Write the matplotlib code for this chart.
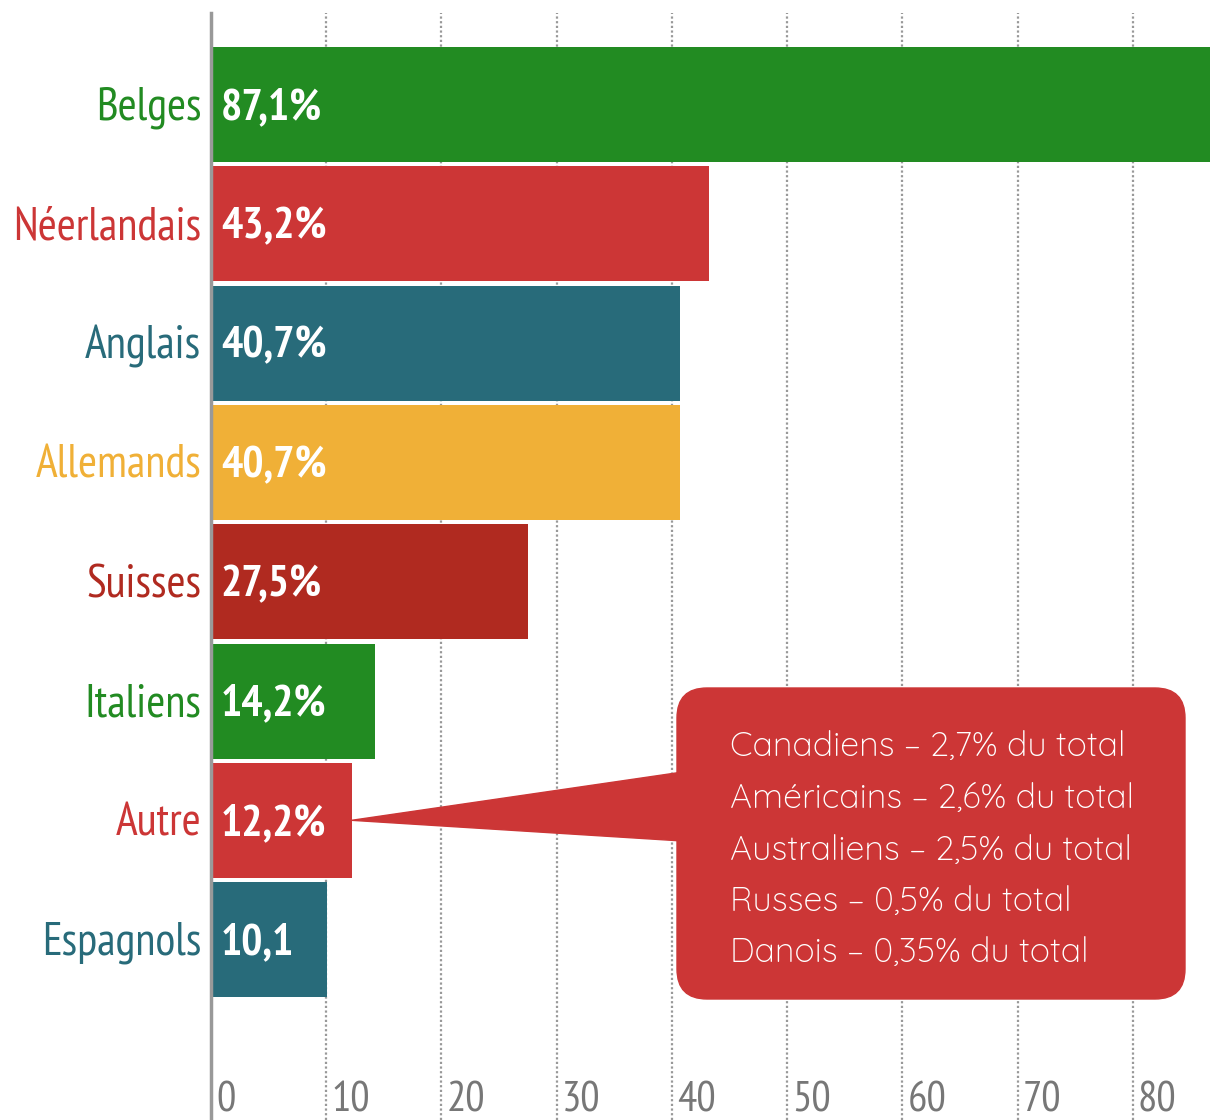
import matplotlib.pyplot as plt
from matplotlib.patches import FancyBboxPatch, Polygon
import numpy as np

# données
categories = ['Belges', 'Néerlandais', 'Anglais', 'Allemands', 'Suisses', 'Italiens', 'Autre', 'Espagnols']
values = [87.1, 43.2, 40.7, 40.7, 27.5, 14.2, 12.2, 10.1]
value_labels = ['87,1%', '43,2%', '40,7%', '40,7%', '27,5%', '14,2%', '12,2%', '10,1']
colors = ['#228b22', '#cc3636', '#286b7a', '#f0b037', '#b02a20', '#228b22', '#cc3636', '#286b7a']
ticks = [0, 10, 20, 30, 40, 50, 60, 70, 80]
other_lines = ['Canadiens – 2,7% du total',
               'Américains – 2,6% du total',
               'Australiens – 2,5% du total',
               'Russes – 0,5% du total',
               'Danois – 0,35% du total']

narrow = ['PT Sans Narrow', 'DejaVu Sans']
box_font = ['Quicksand', 'Lato', 'DejaVu Sans']

fig = plt.figure(figsize=(12.1, 11.2), dpi=100)
ax = fig.add_axes([211 / 1210, 0, 999 / 1210, 1107 / 1120])

y = np.arange(len(categories))
ax.barh(y, values, height=0.964, color=colors, zorder=2)

ax.set_xlim(0, 86.7)
ax.set_ylim(8.512, -0.767)

# grille pointillée
for t in ticks[1:]:
    ax.axvline(t, color='#999999', lw=1.6, ls=(0, (1, 1.1)), zorder=1)

# étiquettes de l'axe x, en bas, à droite des lignes
for t in ticks:
    ax.text(t + 0.45, 8.44, str(t), color='#777777', fontsize=31,
            family=narrow, ha='left', va='baseline')

for i, (cat, val, lab, col) in enumerate(zip(categories, values, value_labels, colors)):
    ax.text(-0.85, i + 0.03, cat, color=col, fontsize=33, family=narrow,
            ha='right', va='center', clip_on=False)
    ax.text(0.85, i + 0.03, lab, color='white', fontsize=32, family=narrow,
            fontweight='bold', ha='left', va='center', zorder=3)

for s in ['top', 'right', 'bottom']:
    ax.spines[s].set_visible(False)
ax.spines['left'].set_color('#999999')
ax.spines['left'].set_linewidth(2.5)
ax.set_xticks([])
ax.set_yticks([])

# bulle "Autre"
box_color = '#cc3636'
tri = Polygon([(values[6], 6), (42, 5.58), (42, 6.18)], closed=True,
              color=box_color, zorder=4)
ax.add_patch(tri)
box = FancyBboxPatch((7.07, 1.51), 4.48, 2.51, boxstyle='round,pad=0.3',
                     transform=fig.dpi_scale_trans, color=box_color, zorder=4)
fig.patches.append(box)

for k, line in enumerate(other_lines):
    fig.text(730 / 1210, 1 - (747 + 51.5 * k) / 1120, line, color='white',
             fontsize=24.5, family=box_font, fontweight=400,
             ha='left', va='center', zorder=5)

fig.savefig('out.png', dpi=100)
